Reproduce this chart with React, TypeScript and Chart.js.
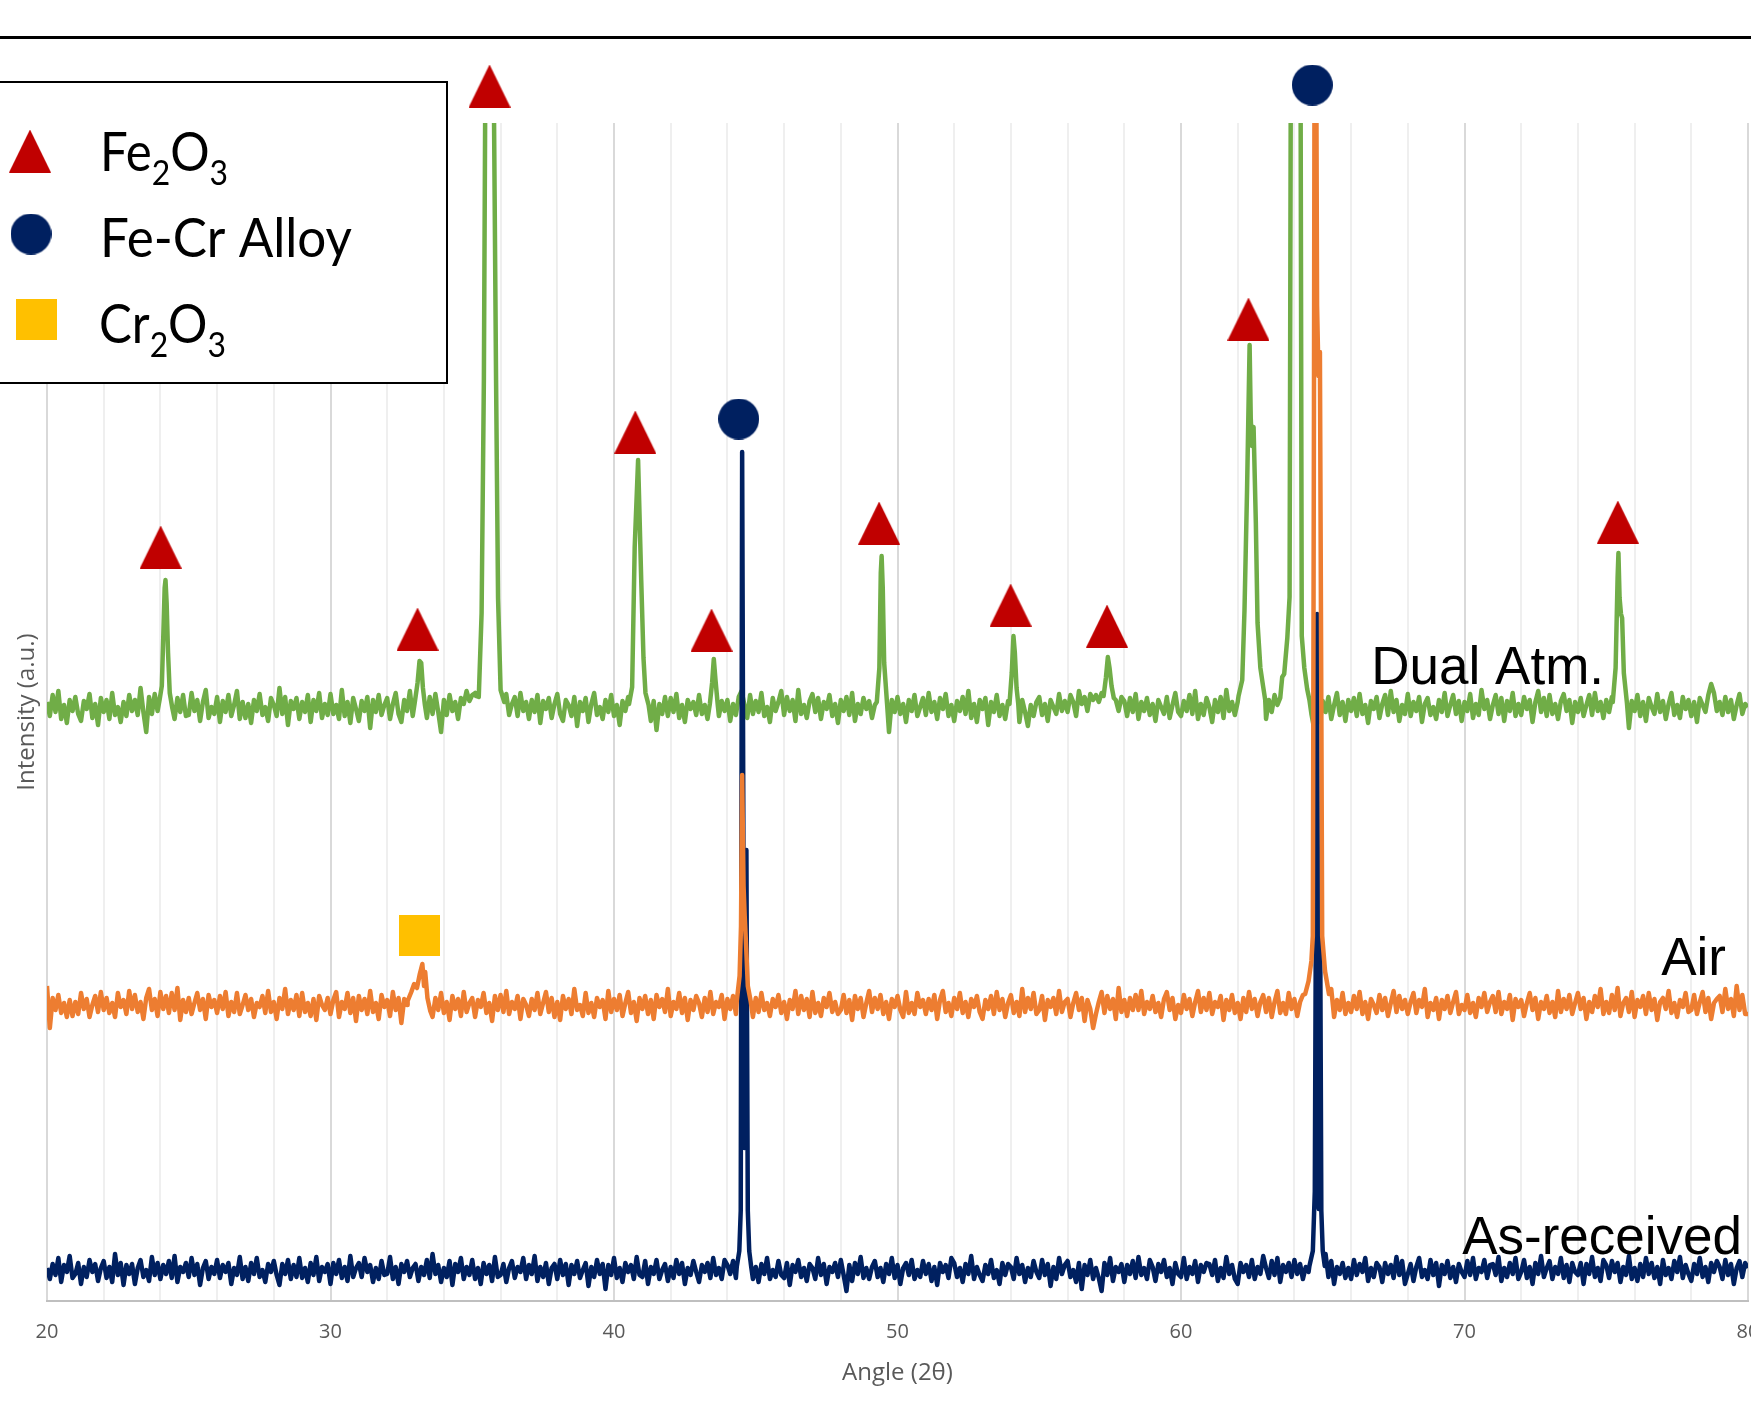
import React, { useEffect, useRef } from 'react';
import { Chart, registerables } from 'chart.js';

Chart.register(...registerables);

// ---------- axis ----------
const X_MIN = 20;
const X_MAX = 80;
const X_STEP = 0.1; // sampling step of the background arrays (degrees 2θ)
const Y_MIN = 0;
const Y_MAX = 1178;
const X_TICK_LABELS = [20, 30, 40, 50, 60, 70, 80];

// ---------- series baselines (a.u.) ----------
const DUAL_BASE = 593;
const AIR_BASE = 295;
const ASREC_BASE = 30;

// ---------- Dual Atm. : background deviations every 0.1° from 20° ----------
const dualNoise = [
  6,-8,13,-4,17,-11,3,-15,8,-3,
  11,-6,-13,7,-1,14,-10,4,-17,10,
  -4,8,-11,15,-7,1,-14,6,-8,13,
  -3,8,-7,20,-4,-24,11,-6,14,-3,
  0,0,0,0,0,-11,10,-4,13,-8,
  -7,15,-3,8,-13,6,18,-10,1,-6,
  11,-14,7,-4,13,-8,3,17,-11,6,
  -10,4,-15,8,-3,14,-7,1,-13,10,
  3,-8,20,-6,11,-17,7,-1,10,-11,
  6,-4,13,-14,8,-3,15,-10,4,-7,
  14,-6,3,-11,18,-8,6,-15,10,-1,
  -13,7,-3,11,-20,8,-4,13,-7,3,
  10,-11,4,15,-6,-14,8,-3,17,-8,
  0,0,0,0,-10,11,-6,14,-4,-24,
  8,-7,13,-3,6,-11,10,4,17,7,
  13,15,0,0,0,0,0,0,0,0,
  0,0,14,-7,4,11,-8,15,-3,6,
  -11,8,-4,13,-15,7,-1,10,-10,4,
  14,-6,-13,8,3,-8,11,-18,6,-3,
  10,-14,4,15,-7,1,-11,8,-4,13,
  -8,3,-17,7,-3,11,0,0,0,0,
  0,0,0,-13,7,-22,4,-6,11,-8,
  10,-4,14,-10,3,-14,8,-1,6,-7,
  13,-6,3,-11,0,0,0,-8,7,-3,
  8,-13,4,-7,11,17,3,-10,13,-6,
  7,-4,15,-8,1,-14,10,-3,6,17,
  -7,11,-3,8,-13,18,-6,3,-10,7,
  14,-4,10,-11,6,-1,13,-8,4,-15,
  8,-3,11,-7,15,-13,4,-6,10,-1,
  7,-10,3,0,0,0,0,-24,8,-4,
  11,-6,4,-14,8,-3,13,-8,1,10,
  -7,15,-4,6,-11,10,-1,14,-8,3,
  -13,7,-3,11,-6,17,-10,4,-14,8,
  -1,10,-17,6,-4,13,-8,3,-11,7,
  0,0,0,-14,8,-4,-18,3,-8,6,
  11,-7,4,-13,8,1,-6,14,-3,7,
  -4,13,6,-8,17,4,11,-3,14,8,
  13,6,15,0,0,0,0,8,-3,11,
  7,-8,10,-4,14,-11,6,-3,10,-7,
  4,-13,8,1,-6,11,-10,3,15,-4,
  -8,7,-3,13,-6,17,-11,4,-7,10,
  1,-14,8,-4,11,-10,18,-3,6,-7,
  6,0,0,0,0,0,0,0,0,0,
  -11,8,-4,13,3,10,0,0,0,0,
  0,0,0,0,0,0,-6,-21,8,-14,
  7,-4,11,-11,3,15,-7,6,-13,8,
  -3,10,-8,14,-6,3,-15,7,-1,11,
  -10,4,13,-7,17,-4,8,-13,3,-6,
  14,-8,6,-3,11,-14,4,10,-7,1,
  -11,8,-4,15,-8,3,13,-6,7,-13,
  6,-3,14,-10,4,-7,18,-1,8,-11,
  3,13,-6,10,-13,7,-3,15,-8,4,
  -7,11,-1,8,-14,6,17,-4,10,-8,
  13,-6,4,-11,7,14,-3,8,-15,6,
  -4,10,-8,3,13,-7,15,-3,6,-10,
  8,-4,11,0,0,0,0,0,-20,7,
  -3,13,-8,6,-13,10,1,-6,14,-4,
  7,-11,4,15,-7,3,-10,11,-1,8,
  -8,6,-14,10,3,-4,13,24,15,-3,
  6,-7,11,-4,8,-11,3,14,-6,4,
  1,
];

// Dual Atm. peaks: [angle, height above baseline]
const dualPeaks = [
  [[23.97, 8], [24.05, 22], [24.1, 70], [24.15, 120], [24.18, 128], [24.22, 105], [24.27, 55], [24.33, 15], [24.42, 0]],
  [[32.97, 5], [33.07, 25], [33.14, 47], [33.2, 45], [33.26, 20], [33.33, 3]],
  [[35.13, 12], [35.23, 11], [35.33, 95], [35.41, 328], [35.46, 620], [35.6, 1600], [35.76, 620], [35.84, 328], [35.91, 110], [36.0, 18], [36.13, 6]],
  [[40.53, 4], [40.64, 21], [40.73, 161], [40.85, 248], [40.96, 128], [41.04, 50], [41.11, 15], [41.22, 3]],
  [[43.38, 4], [43.46, 25], [43.52, 49], [43.58, 28], [43.66, 3]],
  [[49.27, 6], [49.36, 40], [49.41, 135], [49.44, 152], [49.48, 120], [49.53, 45], [49.63, 5]],
  [[53.95, 4], [54.03, 35], [54.09, 72], [54.14, 55], [54.2, 20], [54.26, 4]],
  [[57.27, 12], [57.35, 30], [57.42, 51], [57.48, 40], [57.55, 22], [57.63, 10]],
  [[62.03, 12], [62.16, 28], [62.24, 98], [62.33, 218], [62.42, 363], [62.46, 290], [62.5, 262], [62.56, 281], [62.64, 185], [62.7, 85], [62.8, 40], [62.9, 21], [62.97, 8]],
  [[63.52, 10], [63.57, 31], [63.64, 34], [63.75, 70], [63.83, 111], [63.87, 600], [64.05, 1700], [64.22, 600], [64.26, 72], [64.35, 40], [64.45, 19], [64.53, 8]],
  [[75.23, 6], [75.33, 40], [75.4, 130], [75.43, 155], [75.47, 110], [75.52, 94], [75.56, 90], [75.62, 35], [75.73, 5]],
];

// ---------- Air ----------
const airNoise = [
  20,-22,8,-4,11,-7,3,-11,6,-10,
  4,-8,13,-3,7,-11,1,10,-6,14,
  -4,8,-7,3,-11,13,-1,6,-8,15,
  -3,11,-6,4,-13,8,17,-4,7,-10,
  14,-3,10,-7,13,-4,18,-14,6,-6,
  8,-8,3,13,-4,7,-13,11,-1,6,
  -7,10,-3,14,-10,4,-6,13,-8,1,
  11,-4,7,-11,3,-1,10,-7,15,-6,
  4,-13,8,-3,17,-8,6,-4,11,-10,
  13,-6,3,-10,7,-14,10,1,-4,8,
  -8,6,14,-11,4,-3,13,-7,8,-15,
  10,-4,7,-8,15,-6,3,-13,11,-1,
  6,-10,14,-4,8,-17,7,1,0,0,
  0,0,0,0,0,0,-11,8,-4,13,
  -7,4,-14,10,-3,7,-10,14,-6,3,
  8,-11,6,-1,13,-7,3,-15,10,-4,
  11,-6,15,-8,4,-3,10,-13,7,1,
  -10,7,-4,13,-8,3,14,-6,8,-11,
  4,-14,10,-3,7,-8,17,-4,1,-10,
  13,-7,3,-11,8,-1,6,-13,15,-6,
  7,-4,11,-10,3,14,-7,4,-15,8,
  -3,10,-8,6,-13,11,-1,7,-6,17,
  -10,4,-3,13,-7,8,-14,6,-4,10,
  3,-11,8,-6,14,-8,4,-1,11,-13,
  7,-3,10,-8,0,0,0,0,0,-11,
  8,-6,13,-4,3,-10,7,-1,11,-7,
  4,-13,6,-3,15,-8,10,-4,7,-11,
  14,-7,3,-10,8,-1,13,-6,4,-8,
  -4,11,-7,6,-14,10,-3,8,-11,3,
  15,-6,8,-3,11,-8,4,-13,7,-1,
  10,-4,-11,14,-7,3,-8,13,-1,6,
  -8,7,-4,11,-13,6,15,-6,3,-10,
  8,-3,13,-7,4,-11,7,-1,10,-6,
  -13,6,-3,10,-8,14,-4,7,-11,3,
  11,-7,4,-10,17,-6,8,-3,13,-8,
  -4,10,-14,6,-1,8,-8,15,-6,4,
  7,-11,3,13,-4,8,-15,6,-3,-22,
  -8,4,14,-7,10,-3,7,-13,18,-6,
  6,-10,8,-4,11,-4,15,-8,4,-3,
  10,-6,3,-11,7,14,-4,8,-13,1,
  -7,11,-3,7,-10,4,15,-6,8,-4,
  13,-8,4,-1,10,-14,6,-4,11,-7,
  3,-13,8,-6,14,-3,7,-10,4,11,
  -6,8,-11,4,15,-7,3,-8,13,-3,
  7,-10,4,11,0,0,0,0,0,0,
  0,0,0,17,-11,6,-4,13,-8,3,
  -6,10,-3,14,-8,4,-13,7,1,-7,
  11,-4,8,-10,3,15,-6,10,-3,6,
  -8,4,13,-7,6,-1,17,-11,3,-4,
  8,-13,6,-3,10,-7,4,14,-8,1,
  -4,11,-7,3,-11,8,-1,13,-6,4,
  10,-6,14,-8,4,-3,11,-14,7,-1,
  6,-10,3,13,-4,8,-13,4,-3,10,
  -7,4,-11,15,-6,7,-3,11,-8,3,
  13,-3,8,-13,4,-6,10,-1,17,-8,
  4,-7,11,-4,18,-10,3,8,-6,14,
  -11,6,-1,10,-8,13,-4,7,-14,4,
  8,-3,15,-7,3,-11,6,-1,13,-6,
  -4,11,-8,4,14,-6,8,-13,3,7,
  10,-6,17,-3,7,-10,20,-4,11,-8,
  -8,
];

const airPeaks = [
  [[32.72, 5], [32.85, 14], [32.95, 22], [33.05, 18], [33.15, 32], [33.24, 42], [33.3, 20], [33.34, 34], [33.42, 8], [33.52, -5]],
  [[44.33, 5], [44.43, 30], [44.48, 80], [44.52, 231], [44.57, 120], [44.61, 90], [44.66, 60], [44.72, 20], [44.82, 5]],
  [[64.38, 12], [64.5, 25], [64.6, 45], [64.65, 70], [64.69, 600], [64.73, 1300], [64.8, 700], [64.85, 630], [64.9, 654], [64.95, 300], [64.98, 70], [65.08, 35], [65.22, 12]],
];

// ---------- As-received ----------
const asRecNoise = [
  3,-8,7,-4,13,-11,6,-1,15,-7,
  -3,8,-13,4,-6,11,-1,7,-10,3,
  10,-7,4,-11,17,-4,8,-14,6,-3,
  7,-13,3,11,-6,1,-10,14,-4,8,
  -8,6,-3,10,-7,15,-11,4,-1,8,
  -6,13,-4,7,-14,3,10,-8,4,-3,
  11,-7,6,-1,8,-13,3,-4,14,-8,
  4,-10,8,-3,13,-6,1,-11,7,-1,
  10,-4,-14,7,-3,11,-8,6,-6,13,
  -7,3,-11,8,-4,14,-10,4,-1,7,
  -13,8,-3,11,-7,4,-10,15,-6,3,
  8,-6,13,-1,6,-11,3,-8,10,-4,
  -3,14,-8,4,-13,7,-1,10,-6,3,
  7,-10,4,-4,11,-7,17,-3,6,-11,
  3,-6,10,-14,7,-1,13,-8,4,-4,
  11,-8,3,-13,8,-3,6,-10,14,-6,
  -4,7,-11,3,10,-7,4,-1,13,-8,
  6,-3,15,-10,4,-6,8,-13,3,7,
  -8,11,-4,7,-14,6,-3,10,-7,1,
  8,-15,4,-6,11,-3,7,-18,6,-4,
  13,-7,3,-11,8,-1,6,-8,14,-4,
  -6,10,-13,4,-3,11,-8,1,7,-10,
  4,-7,11,-3,8,-13,3,-4,10,-1,
  -11,6,-1,8,-7,13,-4,3,-8,11,
  6,-3,10,-7,0,0,0,0,0,-8,
  4,-11,7,-3,13,-8,1,-6,10,-4,
  -7,8,-14,6,-1,11,-6,3,-10,7,
  3,-8,13,-4,7,-13,4,-1,8,-6,
  11,-4,-20,6,-10,8,-3,14,-7,3,
  -8,4,10,-6,3,-11,7,-3,13,-7,
  6,-13,3,8,-4,11,-8,1,-6,10,
  -3,7,-10,4,-14,8,-1,6,-7,13,
  8,-6,3,-11,7,-3,15,-8,4,-4,
  -10,6,-3,11,-7,1,-13,8,-4,7,
  4,-8,13,-3,6,-11,3,-6,10,-1,
  -7,11,-4,7,-15,4,-8,13,-3,6,
  10,-6,1,-11,8,-18,6,-4,11,-8,
  3,-7,-20,8,-4,13,-10,4,-1,7,
  -11,6,-3,10,-7,14,-4,3,-8,11,
  4,-10,7,-1,11,-6,3,-13,8,-3,
  -6,13,-8,4,-3,10,-11,6,-1,8,
  7,-4,11,-10,3,-7,14,-3,6,-8,
  -13,8,-1,6,-6,11,-8,4,-3,15,
  3,-7,10,-4,13,-11,6,-1,8,-6,
  11,-3,7,-8,4,-1,0,0,0,0,
  0,17,-6,10,-13,4,-3,8,-7,3,
  -8,11,-4,7,-1,13,-10,3,-6,8,
  4,-11,8,-3,6,-7,14,-4,10,-13,
  -3,7,-10,4,13,-6,1,-8,11,-4,
  8,-15,6,-3,10,-7,4,-11,7,-1,
  -6,10,-4,13,-8,3,-1,11,-7,6,
  7,-4,14,-10,3,-6,8,-3,13,-8,
  -1,11,-7,4,-13,8,-3,15,-6,3,
  10,-8,4,-3,13,-7,6,-11,8,-1,
  -4,8,-13,7,-3,14,-6,3,-10,11,
  6,-7,10,-1,8,-11,4,-4,15,-8,
  3,-10,7,-6,13,-3,8,-7,4,-13,
  11,-4,3,-8,10,-1,14,-7,6,-3,
  -10,7,-3,13,-6,4,-11,8,-1,10,
  4,-8,11,-4,7,-13,3,10,-6,8,
  3,
];

const asRecPeaks = [
  [[44.33, 4], [44.42, 20], [44.47, 60], [44.52, 819], [44.6, 123], [44.67, 421], [44.72, 60], [44.77, 20], [44.84, 4]],
  [[64.53, 5], [64.65, 20], [64.72, 80], [64.8, 657], [64.86, 62], [64.9, 410], [64.95, 60], [65.0, 20], [65.07, 5]],
];

// ---------- phase markers ----------
const fe2o3Angles = [24.01, 33.07, 35.61, 40.75, 43.44, 49.35, 53.99, 57.39, 62.38, 75.41];
const fe2o3Values = [754, 672, 1215, 869, 671, 778, 696, 675, 982, 779];
const feCrAngles = [44.4, 64.63];
const feCrValues = [882, 1216];
const cr2o3Angles = [33.15];
const cr2o3Values = [366];

// ---------- labels ----------
const seriesNames = ['Dual Atm.', 'Air', 'As-received'];
const legendNames = [
  [{ t: 'Fe' }, { t: '2', sub: true }, { t: 'O' }, { t: '3', sub: true }],
  [{ t: 'Fe-Cr Alloy' }],
  [{ t: 'Cr' }, { t: '2', sub: true }, { t: 'O' }, { t: '3', sub: true }],
];

const COLORS = {
  dual: '#70AD47',
  air: '#ED7D31',
  asrec: '#002060',
  fe2o3: '#C00000',
  fecr: '#002060',
  cr2o3: '#FFC000',
};

function buildSeries(base: number, noise: number[], peaks: number[][][]) {
  const pts: { x: number; y: number }[] = [];
  noise.forEach((v, i) => {
    const x = Math.round((X_MIN + i * X_STEP) * 100) / 100;
    const inPeak = peaks.some((p) => x > p[0][0] + 1e-9 && x < p[p.length - 1][0] - 1e-9);
    if (!inPeak) pts.push({ x, y: base + v });
  });
  peaks.forEach((p) => p.forEach(([x, h]) => pts.push({ x, y: base + h })));
  pts.sort((a, b) => a.x - b.x);
  return pts;
}

function makeMarker(kind: string, color: string, w: number, h: number) {
  const c = document.createElement('canvas');
  c.width = w;
  c.height = h;
  const g = c.getContext('2d') as CanvasRenderingContext2D;
  g.fillStyle = color;
  g.beginPath();
  if (kind === 'triangle') {
    g.moveTo(w / 2, 0);
    g.lineTo(w, h);
    g.lineTo(0, h);
    g.closePath();
  } else if (kind === 'circle') {
    g.arc(w / 2, h / 2, w / 2, 0, Math.PI * 2);
  } else {
    g.rect(0, 0, w, h);
  }
  g.fill();
  return c;
}

function drawRuns(ctx: CanvasRenderingContext2D, runs: any[], x: number, baseline: number, targetWidth: number) {
  const mainFont = '54px Lato, "Open Sans", sans-serif';
  const subFont = '35px Lato, "Open Sans", sans-serif';
  let total = 0;
  runs.forEach((r) => {
    ctx.font = r.sub ? subFont : mainFont;
    total += ctx.measureText(r.t).width;
  });
  const s = total > targetWidth ? targetWidth / total : 1;
  ctx.save();
  ctx.translate(x, baseline);
  ctx.scale(s, 1);
  let cx = 0;
  runs.forEach((r) => {
    ctx.font = r.sub ? subFont : mainFont;
    ctx.fillText(r.t, cx, r.sub ? 14 : 0);
    cx += ctx.measureText(r.t).width;
  });
  ctx.restore();
}

export default function App() {
  const canvasRef = useRef<HTMLCanvasElement | null>(null);

  useEffect(() => {
    const canvas = canvasRef.current;
    if (!canvas) return;
    const tri = makeMarker('triangle', COLORS.fe2o3, 42, 43);
    const circ = makeMarker('circle', COLORS.fecr, 41, 41);
    const sq = makeMarker('square', COLORS.cr2o3, 41, 41);

    const overlay = {
      id: 'xrdOverlay',
      afterDraw(chart: any) {
        const ctx = chart.ctx as CanvasRenderingContext2D;
        ctx.save();
        // top rule
        ctx.strokeStyle = '#000';
        ctx.lineWidth = 3;
        ctx.beginPath();
        ctx.moveTo(0, 37.5);
        ctx.lineTo(chart.width, 37.5);
        ctx.stroke();
        // legend box
        ctx.fillStyle = '#fff';
        ctx.fillRect(-3, 82, 450, 301);
        ctx.strokeStyle = '#000';
        ctx.lineWidth = 2;
        ctx.strokeRect(-3, 82, 450, 301);
        ctx.drawImage(tri, 30 - 21, 151 - 21.5);
        ctx.drawImage(circ, 31 - 20.5, 234 - 20.5);
        ctx.drawImage(sq, 36 - 20.5, 319 - 20.5);
        ctx.fillStyle = '#000';
        ctx.textAlign = 'left';
        ctx.textBaseline = 'alphabetic';
        drawRuns(ctx, legendNames[0], 100, 171, 128);
        drawRuns(ctx, legendNames[1], 100, 257, 252);
        drawRuns(ctx, legendNames[2], 99, 343, 127);
        // series labels
        ctx.font = '53px "Liberation Sans", Arial, sans-serif';
        ctx.textAlign = 'right';
        ctx.fillText(seriesNames[0], 1604, 684);
        ctx.fillText(seriesNames[1], 1726, 975);
        ctx.fillText(seriesNames[2], 1742, 1254);
        ctx.restore();
      },
    };

    const lineCommon = {
      borderWidth: 4.5,
      pointRadius: 0,
      tension: 0,
      fill: false,
      borderJoinStyle: 'round',
      clip: 0,
    };

    const chart = new Chart(canvas, {
      type: 'line',
      data: {
        datasets: [
          {
            type: 'scatter',
            label: 'Fe2O3',
            data: fe2o3Angles.map((x, i) => ({ x, y: fe2o3Values[i] })),
            pointStyle: tri as any,
            pointRadius: 60,
            showLine: false,
            clip: false as any,
            order: 0,
          },
          {
            type: 'scatter',
            label: 'Fe-Cr Alloy',
            data: feCrAngles.map((x, i) => ({ x, y: feCrValues[i] })),
            pointStyle: circ as any,
            pointRadius: 60,
            showLine: false,
            clip: false as any,
            order: 0,
          },
          {
            type: 'scatter',
            label: 'Cr2O3',
            data: cr2o3Angles.map((x, i) => ({ x, y: cr2o3Values[i] })),
            pointStyle: sq as any,
            pointRadius: 60,
            showLine: false,
            clip: false as any,
            order: 0,
          },
          {
            ...lineCommon,
            label: 'Air',
            data: buildSeries(AIR_BASE, airNoise, airPeaks),
            borderColor: COLORS.air,
            order: 1,
          },
          {
            ...lineCommon,
            label: 'As-received',
            data: buildSeries(ASREC_BASE, asRecNoise, asRecPeaks),
            borderColor: COLORS.asrec,
            order: 2,
          },
          {
            ...lineCommon,
            label: 'Dual Atm.',
            data: buildSeries(DUAL_BASE, dualNoise, dualPeaks),
            borderColor: COLORS.dual,
            order: 3,
          },
        ] as any,
      },
      options: {
        responsive: false,
        maintainAspectRatio: false,
        devicePixelRatio: 1,
        animation: false,
        events: [],
        parsing: false as any,
        layout: { autoPadding: false, padding: { top: 123, right: 3, bottom: 0, left: 0 } },
        plugins: {
          legend: { display: false },
          tooltip: { enabled: false },
          title: { display: false },
        },
        scales: {
          x: {
            type: 'linear',
            position: 'bottom',
            min: X_MIN,
            max: X_MAX,
            afterFit: (s: any) => {
              s.height = 103;
              s.paddingLeft = 0;
              s.paddingRight = 0;
            },
            ticks: {
              stepSize: 2,
              autoSkip: false,
              maxRotation: 0,
              padding: 19,
              color: '#595959',
              font: { family: '"Open Sans", sans-serif', size: 20 },
              callback: (v: any) => (X_TICK_LABELS.includes(Number(v)) ? String(v) : ''),
            },
            grid: {
              drawTicks: false,
              lineWidth: 2,
              color: (c: any) => (c.tick && Number(c.tick.value) % 10 === 0 ? '#d9d9d9' : '#efefef'),
            },
            border: { display: true, color: '#bfbfbf', width: 2 },
            title: {
              display: true,
              text: 'Angle (2θ)',
              color: '#595959',
              font: { family: '"Open Sans", sans-serif', size: 24 },
              padding: { top: 0, bottom: 16 },
            },
          },
          y: {
            type: 'linear',
            min: Y_MIN,
            max: Y_MAX,
            afterFit: (s: any) => {
              s.width = 47;
              s.paddingTop = 0;
              s.paddingBottom = 0;
            },
            ticks: { display: false },
            grid: { display: false },
            border: { display: false },
            title: {
              display: true,
              text: 'Intensity (a.u.)',
              color: '#595959',
              font: { family: '"Open Sans", sans-serif', size: 24 },
              padding: { top: 13, bottom: 0 },
            },
          },
        },
      } as any,
      plugins: [overlay],
    });
    return () => chart.destroy();
  }, []);

  return (
    <div style={{ position: 'absolute', left: 0, top: 0, width: 1751, height: 1404, background: '#fff' }}>
      <canvas ref={canvasRef} width={1751} height={1404} style={{ display: 'block', width: 1751, height: 1404 }} />
    </div>
  );
}
